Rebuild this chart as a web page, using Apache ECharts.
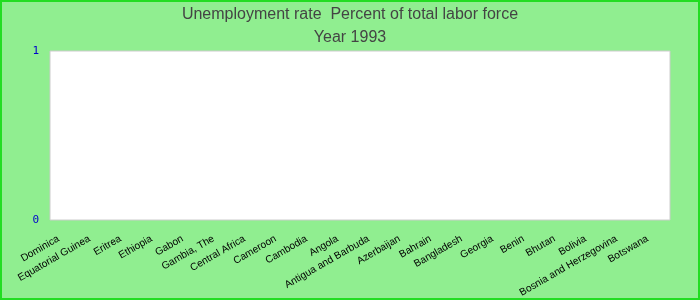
<!DOCTYPE html>
<html><head><meta charset="utf-8">
<script src="https://cdn.jsdelivr.net/npm/echarts@6/dist/echarts.min.js"></script>
<style>
html,body{margin:0;padding:0;background:#90EE90;}
#c{width:700px;height:300px;box-sizing:border-box;border:2px solid #22dd22;}
</style></head>
<body><div id="c"></div>
<script>
const categories = ["Dominica","Equatorial Guinea","Eritrea","Ethiopia","Gabon","Gambia, The","Central Africa","Cameroon","Cambodia","Angola","Antigua and Barbuda","Azerbaijan","Bahrain","Bangladesh","Georgia","Benin","Bhutan","Bolivia","Bosnia and Herzegovina","Botswana"];
const values = [null,null,null,null,null,null,null,null,null,null,null,null,null,null,null,null,null,null,null,null];
const titleLines = ["Unemployment rate  Percent of total labor force","Year 1993"];
const yTicks = [0, 1];

const chart = echarts.init(document.getElementById('c'), null, {renderer:'canvas'});
const tStyle = {color:'#444', fontSize:16, fontWeight:'normal', fontFamily:'Liberation Sans, Arial, sans-serif'};
chart.setOption({
  backgroundColor: '#90EE90',
  animation: false,
  title: [
    {text: titleLines[0], left:'center', top: 0, textStyle: tStyle},
    {text: titleLines[1], left:'center', top: 23, textStyle: tStyle}
  ],
  grid: {left: 48, right: 28, top: 49, bottom: 78, outerBoundsMode:'none', containLabel:false, show: true, backgroundColor:'#fff', borderColor:'#ccc', borderWidth:1},
  xAxis: {
    type:'category', data: categories,
    axisLine:{show:false}, axisTick:{show:false},
    axisLabel:{rotate:30, interval:0, color:'#000', fontSize:10.2, fontFamily:'Liberation Sans, Arial, sans-serif', margin:14, padding:[0,8,0,0]}
  },
  yAxis: {
    type:'value', min: yTicks[0], max: yTicks[1], interval: 1,
    splitLine:{show:false}, axisLine:{show:false}, axisTick:{show:false},
    axisLabel:{color:'#0000cc', fontSize:11, fontFamily:'DejaVu Sans Mono, monospace', margin:11}
  },
  series: [{type:'bar', data: values}]
});
</script></body></html>
